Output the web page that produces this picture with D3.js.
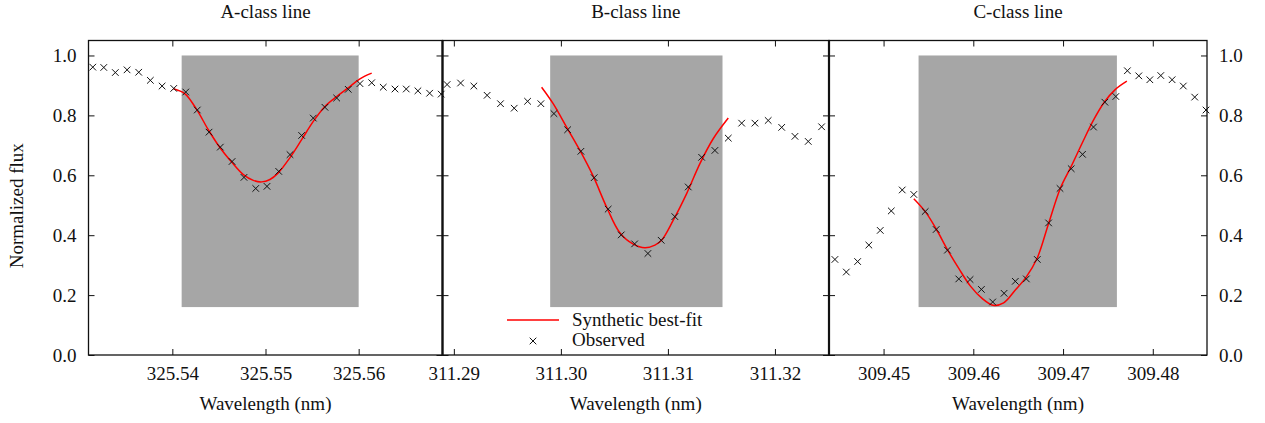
<!DOCTYPE html>
<html>
<head>
<meta charset="utf-8">
<script src="https://cdn.jsdelivr.net/npm/d3@7"></script>
<style>
  html, body { margin: 0; padding: 0; background: #fff; }
  svg { display: block; }
  text { font-family: "Liberation Serif", "Times New Roman", Times, serif; fill: #111; }
</style>
</head>
<body>
<svg id="chart" width="1265" height="423"></svg>
<script>
// ---------- DATA ----------
const panelTitles = ["A-class line", "B-class line", "C-class line"];
const yTicks = [0.0, 0.2, 0.4, 0.6, 0.8, 1.0];

// Panel A
const obsA_x = [325.53146,325.53264,325.53388,325.53514,325.53639,325.53764,325.5389,325.54015,325.54144,325.54268,325.54394,325.54515,325.54641,325.54769,325.54895,325.55016,325.55142,325.55263,325.55388,325.55513,325.55638,325.55764,325.55888,325.56014,325.5614,325.56264,325.5639,325.56511,325.56636,325.56762,325.56886];
const obsA_y = [0.961,0.960,0.943,0.952,0.944,0.917,0.898,0.890,0.878,0.818,0.744,0.694,0.646,0.593,0.556,0.563,0.613,0.669,0.733,0.791,0.827,0.858,0.887,0.906,0.909,0.894,0.888,0.888,0.882,0.874,0.871];
const fitA_x = [325.54011,325.54136,325.54262,325.54386,325.54512,325.54637,325.54762,325.54869,325.54959,325.55048,325.55137,325.55263,325.55388,325.55513,325.55638,325.55764,325.55888,325.56014,325.5614];
const fitA_y = [0.889,0.872,0.819,0.752,0.692,0.644,0.602,0.583,0.578,0.586,0.608,0.659,0.719,0.780,0.830,0.863,0.892,0.922,0.941];
const ticksA = [325.54, 325.55, 325.56];
const windowA = [325.541, 325.560];

// Panel B
const obsB_x = [311.28937,311.29063,311.29187,311.29311,311.29436,311.29564,311.29689,311.29813,311.29935,311.30063,311.30187,311.30311,311.30442,311.30564,311.30689,311.30813,311.30937,311.31065,311.3119,311.31315,311.31439,311.31564,311.31689,311.31813,311.31937,311.32063,311.32187,311.32311,311.32436];
const obsB_y = [0.903,0.908,0.898,0.867,0.839,0.824,0.847,0.839,0.806,0.752,0.680,0.592,0.487,0.401,0.371,0.339,0.383,0.462,0.561,0.660,0.683,0.724,0.774,0.774,0.783,0.760,0.730,0.713,0.762];
const fitB_x = [311.2982,311.29928,311.30053,311.30178,311.30302,311.30427,311.30551,311.30676,311.30785,311.30879,311.30941,311.3105,311.31175,311.31299,311.31423,311.31564];
const fitB_y = [0.894,0.839,0.761,0.683,0.597,0.494,0.408,0.370,0.358,0.367,0.383,0.450,0.539,0.639,0.722,0.791];
const ticksB = [311.29, 311.30, 311.31, 311.32];
const windowB = [311.299, 311.3151];

// Panel C
const obsC_x = [309.44458,309.44585,309.44711,309.44836,309.44963,309.45086,309.45208,309.45337,309.45464,309.45586,309.45712,309.45838,309.45964,309.4609,309.46216,309.46343,309.46468,309.46591,309.46713,309.46839,309.46966,309.47091,309.47217,309.47339,309.47466,309.47588,309.47717,309.47844,309.47967,309.48089,309.48215,309.4834,309.48467,309.48593];
const obsC_y = [0.319,0.277,0.312,0.367,0.416,0.481,0.551,0.536,0.479,0.419,0.350,0.254,0.252,0.219,0.177,0.206,0.246,0.254,0.319,0.441,0.556,0.622,0.670,0.761,0.844,0.863,0.949,0.932,0.919,0.933,0.919,0.898,0.861,0.818];
const fitC_x = [309.45337,309.45467,309.4559,309.45715,309.45838,309.45968,309.46098,309.4622,309.46338,309.46468,309.46591,309.4671,309.46839,309.46969,309.47088,309.47211,309.47333,309.47459,309.47581,309.47711];
const fitC_y = [0.522,0.478,0.419,0.350,0.289,0.230,0.189,0.166,0.174,0.217,0.261,0.322,0.439,0.556,0.628,0.706,0.781,0.844,0.886,0.914];
const ticksC = [309.45, 309.46, 309.47, 309.48];
const windowC = [309.4539, 309.4760];

const windowY = [0.16, 1.0];
const legendLabels = ["Synthetic best-fit", "Observed"];

// ---------- LAYOUT ----------
const plotTop = 40.5, plotBottom = 355;
const panels = [
  { title: panelTitles[0], x0: 88.5, x1: 442.5, domain: [325.5310, 325.5690], ticks: ticksA, win: windowA, ox: obsA_x, oy: obsA_y, fx: fitA_x, fy: fitA_y },
  { title: panelTitles[1], x0: 442.5, x1: 829, domain: [311.28894, 311.32505], ticks: ticksB, win: windowB, ox: obsB_x, oy: obsB_y, fx: fitB_x, fy: fitB_y },
  { title: panelTitles[2], x0: 829, x1: 1207, domain: [309.44392, 309.48604], ticks: ticksC, win: windowC, ox: obsC_x, oy: obsC_y, fx: fitC_x, fy: fitC_y }
];

const svg = d3.select("#chart");
const y = d3.scaleLinear().domain([0, 1.05]).range([plotBottom, plotTop]);
const FS = 19;
const tickLen = 6;
const crossPath = (s) => `M${-s},${-s}L${s},${s}M${-s},${s}L${s},${-s}`;

panels.forEach((p, i) => {
  const x = d3.scaleLinear().domain(p.domain).range([p.x0, p.x1]);
  const g = svg.append("g");

  g.append("rect")
    .attr("x", x(p.win[0])).attr("y", y(windowY[1]))
    .attr("width", x(p.win[1]) - x(p.win[0]))
    .attr("height", y(windowY[0]) - y(windowY[1]))
    .attr("fill", "#a6a6a6");

  const line = d3.line().x(d => x(d[0])).y(d => y(d[1])).curve(d3.curveCatmullRom.alpha(0.5));
  g.append("path")
    .datum(p.fx.map((v, k) => [v, p.fy[k]]))
    .attr("d", line)
    .attr("fill", "none").attr("stroke", "#ff0000").attr("stroke-width", 1.5);

  g.selectAll("path.obs")
    .data(p.ox.map((v, k) => [v, p.oy[k]]))
    .join("path").attr("class", "obs")
    .attr("transform", d => `translate(${x(d[0])},${y(d[1])})`)
    .attr("d", crossPath(3.3))
    .attr("fill", "none").attr("stroke", "#111").attr("stroke-width", 1);

  g.append("rect")
    .attr("x", p.x0).attr("y", plotTop)
    .attr("width", p.x1 - p.x0).attr("height", plotBottom - plotTop)
    .attr("fill", "none").attr("stroke", "#111").attr("stroke-width", 1.3);

  const xb = d3.axisBottom(x).tickValues(p.ticks).tickFormat(d3.format(".2f")).tickSize(-tickLen).tickPadding(12);
  const gxb = g.append("g").attr("transform", `translate(0,${plotBottom})`).call(xb);
  gxb.select(".domain").remove();
  gxb.selectAll("text").attr("font-size", FS).attr("font-family", "Liberation Serif, serif").attr("fill", "#111");
  gxb.selectAll("line").attr("stroke", "#111");

  const xt = d3.axisTop(x).tickValues(p.ticks).tickFormat("").tickSize(-tickLen);
  const gxt = g.append("g").attr("transform", `translate(0,${plotTop})`).call(xt);
  gxt.select(".domain").remove();
  gxt.selectAll("line").attr("stroke", "#111");

  const yl = d3.axisLeft(y).tickValues(yTicks).tickSize(-tickLen).tickFormat(i === 0 ? d3.format(".1f") : "").tickPadding(12);
  const gyl = g.append("g").attr("transform", `translate(${p.x0},0)`).call(yl);
  gyl.select(".domain").remove();
  gyl.selectAll("line").attr("stroke", "#111");
  gyl.selectAll("text").attr("font-size", FS).attr("font-family", "Liberation Serif, serif").attr("fill", "#111");

  const yr = d3.axisRight(y).tickValues(yTicks).tickSize(-tickLen).tickFormat(i === 2 ? d3.format(".1f") : "").tickPadding(12);
  const gyr = g.append("g").attr("transform", `translate(${p.x1},0)`).call(yr);
  gyr.select(".domain").remove();
  gyr.selectAll("line").attr("stroke", "#111");
  gyr.selectAll("text").attr("font-size", FS).attr("font-family", "Liberation Serif, serif").attr("fill", "#111");

  svg.append("text")
    .attr("x", (p.x0 + p.x1) / 2).attr("y", 18)
    .attr("text-anchor", "middle").attr("font-size", FS)
    .text(p.title);

  svg.append("text")
    .attr("x", (p.x0 + p.x1) / 2).attr("y", 410)
    .attr("text-anchor", "middle").attr("font-size", FS)
    .text("Wavelength (nm)");
});

// thicker shared borders between panels
[panels[0].x1, panels[1].x1].forEach(bx => {
  svg.append("line").attr("x1", bx).attr("x2", bx).attr("y1", plotTop).attr("y2", plotBottom)
    .attr("stroke", "#111").attr("stroke-width", 2.2);
});

svg.append("text")
  .attr("transform", `translate(23,${(plotTop + plotBottom) / 2 + 8}) rotate(-90)`)
  .attr("text-anchor", "middle").attr("font-size", FS)
  .text("Normalized flux");

const lg = svg.append("g");
lg.append("line").attr("x1", 507).attr("x2", 559).attr("y1", 320).attr("y2", 320)
  .attr("stroke", "#ff0000").attr("stroke-width", 1.5);
lg.append("text").attr("x", 572).attr("y", 326).attr("font-size", FS).text(legendLabels[0]);
lg.append("path").attr("transform", "translate(533,341)").attr("d", crossPath(3.3))
  .attr("fill", "none").attr("stroke", "#111").attr("stroke-width", 1);
lg.append("text").attr("x", 572).attr("y", 346).attr("font-size", FS).text(legendLabels[1]);
</script>
</body>
</html>
